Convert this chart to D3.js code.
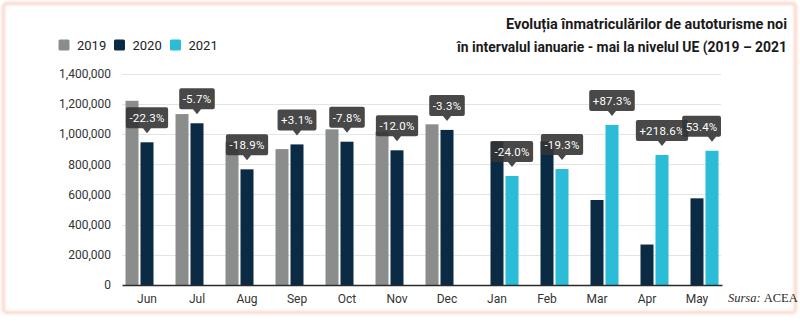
<!DOCTYPE html>
<html>
<head>
<meta charset="utf-8">
<script src="https://cdn.jsdelivr.net/npm/d3@7"></script>
<style>
  html, body { margin: 0; padding: 0; background: #fff; }
  svg { display: block; }
</style>
</head>
<body>
<svg id="chart" width="800" height="321"></svg>
<script>
// ---- Data ----
const months = ["Jun", "Jul", "Aug", "Sep", "Oct", "Nov", "Dec", "Jan", "Feb", "Mar", "Apr", "May"];
const seriesNames = ["2019", "2020", "2021"];
const values2019 = [1220000, 1132000, 945000, 900000, 1031000, 1014000, 1064000, null, null, null, null, null];
const values2020 = [945000, 1071000, 766000, 931000, 949000, 892000, 1027000, 950000, 952000, 563000, 268000, 574000];
const values2021 = [null, null, null, null, null, null, null, 722000, 768000, 1060000, 861000, 889000];
const changeLabels = ["-22.3%", "-5.7%", "-18.9%", "+3.1%", "-7.8%", "-12.0%", "-3.3%", "-24.0%", "-19.3%", "+87.3%", "+218.6%", "53.4%"];
const yTicks = [0, 200000, 400000, 600000, 800000, 1000000, 1200000, 1400000];
const titleLines = ["Evoluția înmatriculărilor de autoturisme noi", "în intervalul ianuarie - mai la nivelul UE (2019 – 2021"];
const sourceParts = ["Sursa:", "ACEA"];
const colors = { "2019": "#8b8d8d", "2020": "#0b2a44", "2021": "#2bbcd7" };

const svg = d3.select("#chart");
const font = "Roboto, 'Noto Sans', sans-serif";

// frame
svg.append("defs").append("filter").attr("id", "blur")
  .append("feGaussianBlur").attr("stdDeviation", 1.3);
svg.append("rect").attr("x", 3.5).attr("y", 3.5).attr("width", 792).attr("height", 309)
  .attr("rx", 3).attr("fill", "none").attr("stroke", "#fcdcd0").attr("stroke-width", 3.5)
  .attr("filter", "url(#blur)");

// scales
const plotLeft = 122, plotRight = 722;
const y = d3.scaleLinear().domain([0, 1400000]).range([285, 73.6]);
const x0 = d3.scaleBand().domain(months).range([plotLeft, plotRight]).paddingInner(0.14).paddingOuter(0.07);
const x1 = d3.scaleBand().domain(seriesNames).range([0, x0.bandwidth()]).paddingInner(0.133).paddingOuter(0);

// gridlines
svg.append("g").selectAll("line").data(yTicks.filter(d => d > 0)).join("line")
  .attr("x1", plotLeft).attr("x2", plotRight - 1)
  .attr("y1", d => Math.round(y(d)) + 0.5).attr("y2", d => Math.round(y(d)) + 0.5)
  .attr("stroke", "#e4e4e4").attr("stroke-width", 1);

// y axis labels
const yAxis = d3.axisLeft(y).tickValues(yTicks).tickSize(0).tickPadding(0).tickFormat(d3.format(","));
const yg = svg.append("g").attr("transform", "translate(111,0)").call(yAxis);
yg.select(".domain").remove();
yg.selectAll("text").attr("font-family", font).attr("font-size", 12).attr("fill", "#333");

// bars
const rows = months.map((m, i) => ({
  month: m,
  vals: [
    { key: "2019", v: values2019[i] },
    { key: "2020", v: values2020[i] },
    { key: "2021", v: values2021[i] }
  ].filter(d => d.v != null)
}));
const groups = svg.append("g").selectAll("g").data(rows).join("g")
  .attr("transform", d => `translate(${x0(d.month)},0)`);
groups.selectAll("rect").data(d => d.vals).join("rect")
  .attr("x", d => x1(d.key)).attr("width", x1.bandwidth())
  .attr("y", d => y(d.v)).attr("height", d => y(0) - y(d.v))
  .attr("fill", d => colors[d.key]);

// baseline axis
const xAxis = d3.axisBottom(x0).tickSize(0).tickPadding(9);
const xg = svg.append("g").attr("transform", `translate(0,${y(0)})`).call(xAxis);
xg.select(".domain").attr("stroke", "#2a2a2a").attr("stroke-width", 1.6);
xg.selectAll("text").attr("font-family", font).attr("font-size", 12).attr("fill", "#333");

// change labels
const labelData = months.map((m, i) => {
  const key = i < 7 ? "2020" : "2021";
  const v = i < 7 ? values2020[i] : values2021[i];
  return { month: m, key, v, text: changeLabels[i] };
});
const lg = svg.append("g");
labelData.forEach(d => {
  const cx = x0(d.month) + x1(d.key) + x1.bandwidth() / 2;
  const top = y(d.v);
  const g = lg.append("g");
  const t = g.append("text").text(d.text)
    .attr("font-family", font).attr("font-size", 11.5).attr("fill", "#fff")
    .attr("text-anchor", "middle").attr("letter-spacing", 0.2);
  const tw = t.node().getComputedTextLength();
  const bw = tw + 7, bh = 21;
  let bx = cx - bw / 2;
  if (bx + bw > plotRight - 1) bx = plotRight - 1 - bw;
  const by = top - 14 - bh;
  const tip = top - 9;
  g.insert("path", "text")
    .attr("d", `M${bx + 2},${by} H${bx + bw - 2} Q${bx + bw},${by} ${bx + bw},${by + 2} V${by + bh - 2} Q${bx + bw},${by + bh} ${bx + bw - 2},${by + bh} H${cx + 4} L${cx},${tip} L${cx - 4},${by + bh} H${bx + 2} Q${bx},${by + bh} ${bx},${by + bh - 2} V${by + 2} Q${bx},${by} ${bx + 2},${by} Z`)
    .attr("fill", "rgba(52,52,52,0.9)");
  t.attr("x", bx + bw / 2).attr("y", by + 15);
});

// legend
const legend = svg.append("g");
const legendX = [58.5, 114, 170];
seriesNames.forEach((s, i) => {
  legend.append("rect").attr("x", legendX[i]).attr("y", 39.5).attr("width", 11).attr("height", 11)
    .attr("rx", 1.5).attr("fill", colors[s]);
  legend.append("text").attr("x", legendX[i] + 18.5).attr("y", 49.5).text(s)
    .attr("font-family", font).attr("font-size", 13).attr("fill", "#222");
});

// title
const titleBaselines = [29.3, 51.5];
const titleWidths = [281, 330];
titleLines.forEach((line, i) => {
  svg.append("text").attr("x", 787).attr("y", titleBaselines[i]).attr("text-anchor", "end")
    .attr("font-family", font).attr("font-weight", 700).attr("font-size", 14).attr("fill", "#1a1a1a")
    .attr("textLength", titleWidths[i]).attr("lengthAdjust", "spacingAndGlyphs")
    .text(line);
});

// source (two separate texts so they never overlap)
const serif = "'Liberation Serif', 'DejaVu Serif', serif";
const s1 = svg.append("text").attr("x", 728).attr("y", 302)
  .attr("font-family", serif).attr("font-style", "italic").attr("font-size", 12.5).attr("fill", "#2a2a2a")
  .text(sourceParts[0]);
const w1 = s1.node().getComputedTextLength();
svg.append("text").attr("x", 728 + w1 + 3).attr("y", 302)
  .attr("font-family", serif).attr("font-size", 12.5).attr("fill", "#2a2a2a")
  .text(sourceParts[1]);
</script>
</body>
</html>
